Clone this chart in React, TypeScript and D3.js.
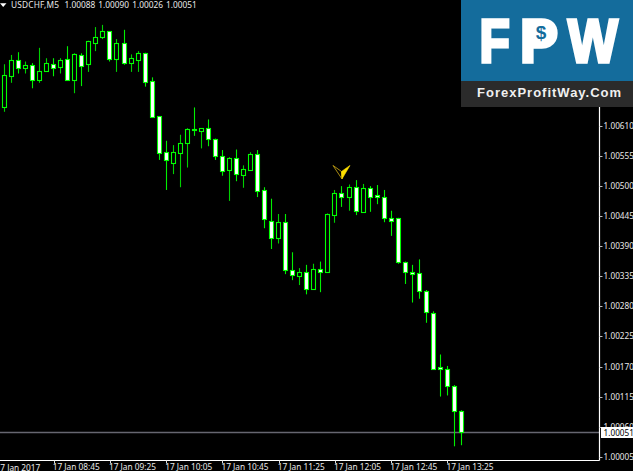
import React from "react";
import * as d3 from "d3";

const symbol = "USDCHF,M5";
const opens = [1.00645,1.00702,1.00730,1.00716,1.00721,1.00695,1.00710,1.00723,1.00718,1.00732,1.00694,1.00740,1.00723,1.00761,1.00772,1.00783,1.00733,1.00761,1.00725,1.00730,1.00744,1.00692,1.00628,1.00562,1.00543,1.00561,1.00579,1.00605,1.00600,1.00606,1.00586,1.00555,1.00530,1.00552,1.00520,1.00530,1.00558,1.00493,1.00437,1.00406,1.00434,1.00347,1.00336,1.00342,1.00312,1.00348,1.00343,1.00447,1.00487,1.00480,1.00498,1.00453,1.00496,1.00483,1.00481,1.00442,1.00442,1.00362,1.00343,1.00341,1.00309,1.00267,1.00169,1.00165,1.00135,1.00088];
const highs = [1.00723,1.00740,1.00745,1.00728,1.00725,1.00753,1.00734,1.00734,1.00734,1.00756,1.00743,1.00743,1.00766,1.00791,1.00795,1.00783,1.00769,1.00786,1.00741,1.00747,1.00744,1.00699,1.00628,1.00583,1.00575,1.00594,1.00606,1.00644,1.00606,1.00622,1.00587,1.00566,1.00553,1.00567,1.00538,1.00562,1.00566,1.00498,1.00477,1.00449,1.00449,1.00379,1.00350,1.00356,1.00358,1.00362,1.00450,1.00493,1.00500,1.00503,1.00511,1.00504,1.00500,1.00502,1.00493,1.00455,1.00442,1.00362,1.00356,1.00366,1.00310,1.00271,1.00192,1.00171,1.00136,1.00090];
const lows = [1.00636,1.00689,1.00706,1.00706,1.00679,1.00689,1.00710,1.00701,1.00706,1.00693,1.00670,1.00683,1.00709,1.00747,1.00769,1.00728,1.00709,1.00722,1.00709,1.00709,1.00682,1.00627,1.00548,1.00493,1.00522,1.00498,1.00534,1.00592,1.00569,1.00573,1.00548,1.00519,1.00473,1.00509,1.00497,1.00530,1.00480,1.00423,1.00385,1.00395,1.00339,1.00328,1.00319,1.00302,1.00311,1.00306,1.00343,1.00433,1.00462,1.00455,1.00447,1.00453,1.00453,1.00467,1.00434,1.00409,1.00358,1.00321,1.00287,1.00294,1.00250,1.00165,1.00115,1.00117,1.00024,1.00026];
const closes = [1.00703,1.00730,1.00716,1.00721,1.00695,1.00711,1.00725,1.00717,1.00730,1.00694,1.00741,1.00720,1.00765,1.00773,1.00783,1.00733,1.00761,1.00725,1.00734,1.00744,1.00691,1.00627,1.00561,1.00547,1.00562,1.00579,1.00605,1.00603,1.00606,1.00586,1.00555,1.00528,1.00552,1.00522,1.00531,1.00558,1.00492,1.00439,1.00406,1.00434,1.00347,1.00338,1.00342,1.00312,1.00348,1.00343,1.00449,1.00487,1.00481,1.00498,1.00455,1.00496,1.00481,1.00481,1.00442,1.00437,1.00362,1.00342,1.00340,1.00309,1.00269,1.00166,1.00165,1.00135,1.00088,1.00051];

const priceTicks = [1.0061,1.00555,1.005,1.00445,1.0039,1.00335,1.0028,1.00225,1.0017,1.00115,1.0006,1.00005];
const timeTickIndex = [7,15,23,31,39,47,55,63];
const timeTickLabels = ["17 Jan 08:45","17 Jan 09:25","17 Jan 10:05","17 Jan 10:45","17 Jan 11:25","17 Jan 12:05","17 Jan 12:45","17 Jan 13:25"];
const firstDateLabel = "17 Jan 2017";
const signalIndex = 48;
const signalPrice = 1.00525;

const W = 633, H = 471, axisX = 599.5, axisY = 460.5;
const x = d3.scaleLinear().domain([0, 65]).range([4.5, 461.5]);
const y = d3.scaleLinear().domain([1.0061, 1.00005]).range([126, 456.7]);
const fmt = d3.format(".5f");
const uiFont = "Noto Sans, Liberation Sans, sans-serif";
const logoFont = "Liberation Sans, sans-serif";

export default function App() {
  const lastClose = closes[closes.length - 1];
  const lastY = Math.round(y(lastClose)) + 0.5;
  return (
    <svg width={W} height={H} viewBox={`0 0 ${W} ${H}`} style={{ position: "fixed", left: 0, top: 0, background: "#000" }}>
      <rect width={W} height={H} fill="#000" />
      <line x1={0} x2={axisX} y1={lastY} y2={lastY} stroke="#666670" strokeWidth={1.5} />
      {opens.map((o, i) => {
        const c = closes[i];
        const cx = Math.round(x(i) - 0.5) + 0.5;
        const top = Math.round(y(Math.max(o, c))) + 0.5;
        const bot = Math.round(y(Math.min(o, c))) + 0.5;
        const bear = c < o;
        return (
          <g key={i}>
            <line x1={cx} x2={cx} y1={y(highs[i])} y2={y(lows[i])} stroke={bear ? "#00f000" : "#00d000"} strokeWidth={1.1} />
            <rect x={cx - 2} y={top} width={4} height={Math.max(bot - top, 1)} fill={bear ? "#fff" : "#000"} stroke="#00ff00" strokeWidth={1.1} />
          </g>
        );
      })}
      <g transform={`translate(${x(signalIndex) - 0.5},${y(signalPrice)})`}>
        <path d="M-8.5,-7 L0,-1 L0.5,6.5 Z" fill="#000" stroke="#a88a10" strokeWidth={1} />
        <path d="M8.5,-7 L0,-1 L0.5,6.5 Z" fill="#ffe000" stroke="#ffe000" strokeWidth={0.6} />
      </g>
      <line x1={axisX} x2={axisX} y1={0} y2={axisY} stroke="#fff" strokeWidth={1.2} />
      <line x1={0} x2={axisX} y1={axisY} y2={axisY} stroke="#fff" strokeWidth={1.2} />
      {priceTicks.map((p) => (
        <g key={p}>
          <line x1={axisX} x2={axisX + 3} y1={Math.round(y(p)) + 0.5} y2={Math.round(y(p)) + 0.5} stroke="#bbb" />
          <text x={603.6} y={y(p) + 3} fill="#e8e8e8" fontSize={8.2} fontFamily={uiFont}>{fmt(p)}</text>
        </g>
      ))}
      <rect x={601} y={lastY - 5.5} width={32} height={11} fill="#fff" />
      <text x={603.6} y={lastY + 3} fill="#000" fontSize={8.2} fontFamily={uiFont}>{fmt(lastClose)}</text>
      <text x={-4.5} y={470.5} fill="#e8e8e8" fontSize={8.3} fontFamily={uiFont}>{firstDateLabel}</text>
      {timeTickIndex.map((t, i) => (
        <g key={t}>
          <line x1={Math.round(x(t)) + 0.5} x2={Math.round(x(t)) + 0.5} y1={axisY} y2={axisY + 3} stroke="#ddd" />
          <text x={x(t) - 1} y={470} fill="#e8e8e8" fontSize={8.3} fontFamily={uiFont}>{timeTickLabels[i]}</text>
        </g>
      ))}
      <path d="M0,3.2 H6.5 L3.2,7 Z" fill="#fff" />
      <text x={11} y={8} fill="#e8e8e8" fontSize={8.3} fontFamily={uiFont} letterSpacing={0.2}>{symbol}</text>
      <text x={64.5} y={8} fill="#e8e8e8" fontSize={8.3} fontFamily={uiFont} wordSpacing={1}>
        {`${fmt(opens[65])} ${fmt(highs[65])} ${fmt(lows[65])} ${fmt(closes[65])}`}
      </text>
      <rect x={461} y={0} width={172} height={81} fill="#146c9c" />
      <rect x={461} y={81} width={172} height={26} fill="#2b2b2b" />
      <g fill="#fff" fontFamily={logoFont} fontWeight={700} fontSize={62} stroke="#fff" strokeWidth={3.4} strokeLinejoin="miter">
        <text transform="translate(479.5,61.5) scale(0.8,1)">F</text>
        <text transform="translate(520,61.5) scale(0.92,1)">P</text>
        <text transform="translate(568,61.5) scale(0.85,1)">W</text>
      </g>
      <ellipse cx={541} cy={32} rx={10} ry={11} fill="#fff" />
      <text x={541} y={39} textAnchor="middle" fill="#146c9c" fontFamily={logoFont} fontWeight={700} fontSize={19}>$</text>
      <text x={477} y={97} fill="#f0f0f0" fontFamily={logoFont} fontWeight={700} fontSize={13} letterSpacing={1}>ForexProfitWay.Com</text>
    </svg>
  );
}
